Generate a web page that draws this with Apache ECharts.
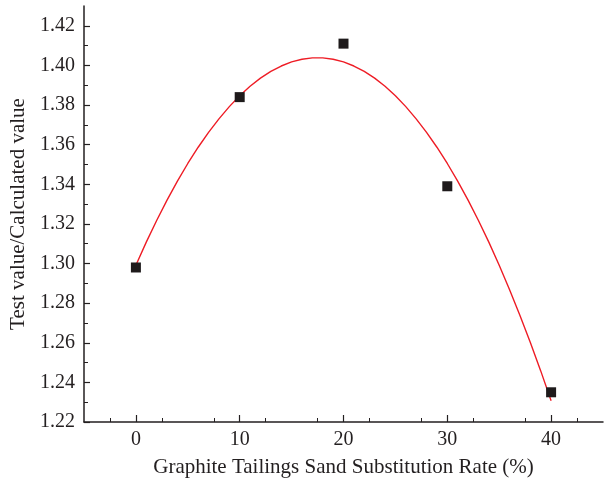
<!DOCTYPE html>
<html>
<head>
<meta charset="utf-8">
<script src="https://cdn.jsdelivr.net/npm/echarts@6/dist/echarts.min.js"></script>
<style>html,body{margin:0;padding:0;background:#fff}#c{width:604px;height:485px}</style>
</head>
<body>
<div id="c"></div>
<script>
// Measured points (substitution rate %, test/calculated)
const rates = [0, 10, 20, 30, 40];
const ratios = [1.298, 1.384, 1.411, 1.339, 1.235];
// Red fitted curve at x = 0,1,...,40
const fitX = [0,1,2,3,4,5,6,7,8,9,10,11,12,13,14,15,16,17,18,19,20,21,22,23,24,25,26,27,28,29,30,31,32,33,34,35,36,37,38,39,40];
const fitY = [1.2991,1.3108,1.3217,1.3320,1.3416,1.3505,1.3587,1.3662,1.3730,1.3792,1.3847,1.3895,1.3936,1.3970,1.3997,1.4018,1.4031,1.4038,1.4038,1.4031,1.4018,1.3997,1.3970,1.3936,1.3895,1.3847,1.3792,1.3730,1.3662,1.3587,1.3505,1.3416,1.3320,1.3217,1.3108,1.2991,1.2868,1.2738,1.2601,1.2458,1.2307];
const yTicks = [1.22, 1.24, 1.26, 1.28, 1.30, 1.32, 1.34, 1.36, 1.38, 1.40, 1.42];
const xTicks = [0, 10, 20, 30, 40];

const ink = '#231f20';
const font = '"Liberation Serif", "DejaVu Serif", serif';
const chart = echarts.init(document.getElementById('c'), null, {renderer: 'canvas'});
chart.setOption({
  animation: false,
  grid: {left: 84, right: 1, top: 6, bottom: 63, containLabel: false},
  xAxis: {
    type: 'value', min: -5, max: 45, interval: 5,
    name: 'Graphite Tailings Sand Substitution Rate (%)',
    nameLocation: 'middle', nameGap: 35,
    nameTextStyle: {fontFamily: font, fontSize: 21, color: ink},
    axisLine: {show: true, onZero: false, lineStyle: {color: ink, width: 1.5}},
    axisTick: {show: true, inside: true, length: 7, lineStyle: {color: ink, width: 1.2}, customValues: xTicks},
    minorTick: {show: true, splitNumber: 2, length: 4, lineStyle: {color: ink, width: 1}},
    axisLabel: {fontFamily: font, fontSize: 20, color: ink, margin: 8, customValues: xTicks},
    splitLine: {show: false}
  },
  yAxis: {
    type: 'value', min: 1.22, max: 1.43, interval: 0.02,
    name: 'Test value/Calculated value',
    nameLocation: 'middle', nameGap: 55,
    nameTextStyle: {fontFamily: font, fontSize: 21, color: ink},
    axisLine: {show: true, onZero: false, lineStyle: {color: ink, width: 1.5}},
    axisTick: {show: true, inside: true, length: 6, lineStyle: {color: ink, width: 1.2}, customValues: yTicks},
    minorTick: {show: true, splitNumber: 2, length: 4, lineStyle: {color: ink, width: 1}},
    axisLabel: {fontFamily: font, fontSize: 20, color: ink, margin: 9, customValues: yTicks,
      formatter: v => v.toFixed(2)},
    splitLine: {show: false}
  },
  series: [
    {
      type: 'line', data: fitX.map((x, i) => [x, fitY[i]]), smooth: false, showSymbol: false,
      lineStyle: {color: '#ee1c25', width: 1.4}, z: 2
    },
    {
      type: 'scatter', data: rates.map((x, i) => [x, ratios[i]]), symbol: 'rect', symbolSize: 10,
      itemStyle: {color: '#1e1a1b', opacity: 1}, z: 3
    }
  ]
});
</script>
</body>
</html>
